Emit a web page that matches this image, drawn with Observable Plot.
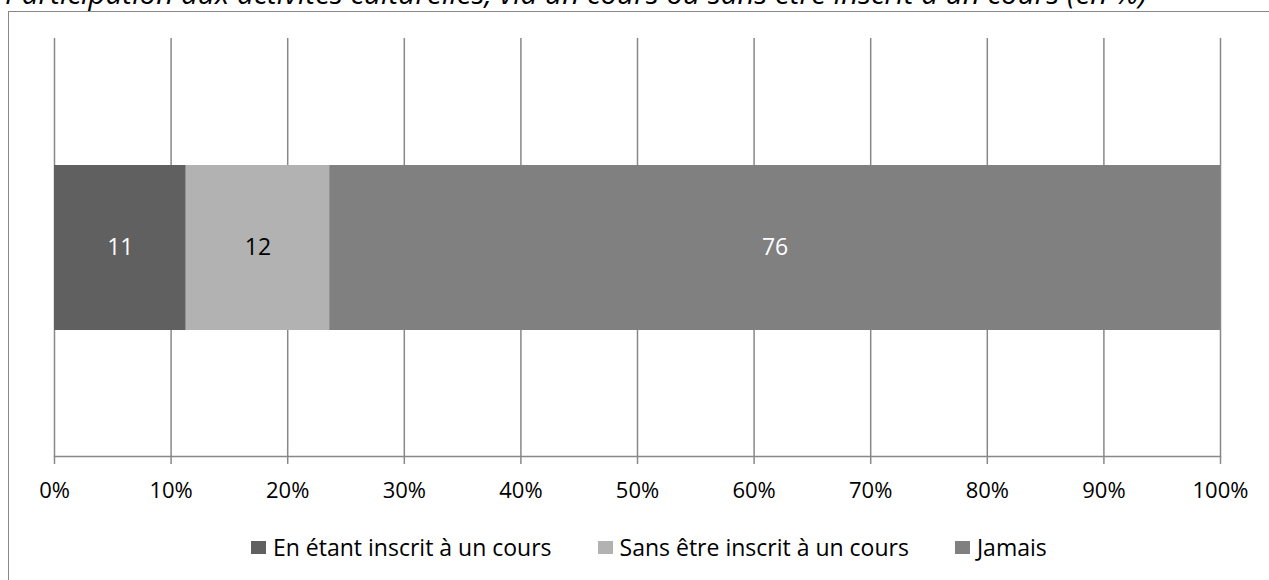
<!DOCTYPE html>
<html><head><meta charset="utf-8">
<script src="https://cdn.jsdelivr.net/npm/d3@7"></script>
<script src="https://cdn.jsdelivr.net/npm/@observablehq/plot@0.6"></script>
<style>
body{margin:0;background:#fff;width:1269px;height:580px;overflow:hidden;position:relative;font-family:"Open Sans",Lato,sans-serif;}
#titlesvg{position:absolute;left:0;top:0;overflow:visible;}
#box{position:absolute;left:8px;top:11px;width:1400px;height:700px;border:1.5px solid #888;box-sizing:border-box;}
#chart{position:absolute;left:0;top:0;}
#legend{position:absolute;top:532px;left:251px;display:flex;gap:46px;font-size:23px;line-height:30px;color:#000;white-space:nowrap;}
#legend span.item{display:flex;align-items:center;gap:7px;}
#legend span.sw{display:inline-block;width:15px;height:13px;margin-top:1px;}
</style></head>
<body>
<svg id="titlesvg" width="1269" height="20"><text id="title" x="5" y="4" font-family="Open Sans, Lato, sans-serif" font-style="italic" font-size="24">Participation aux activités culturelles, via un cours ou sans être inscrit à un cours (en %)</text></svg>
<div id="box"></div>
<div id="chart"></div>
<div id="legend"></div>
<script>
const categories = ["En étant inscrit à un cours", "Sans être inscrit à un cours", "Jamais"];
const values = [11.3, 12.3, 76.4];
const labels = ["11", "12", "76"];
const colors = ["#606060", "#b2b2b2", "#808080"];
const labelColors = ["#ffffff", "#000000", "#ffffff"];
const ticks = [0, 10, 20, 30, 40, 50, 60, 70, 80, 90, 100];

// fit title width to the reference span
const t = document.getElementById("title");
const len = t.getComputedTextLength();
if (len > 0) t.setAttribute("font-size", (24 * 1142 / len).toFixed(2));

let acc = 0;
const data = categories.map((c, i) => {
  const d = {cat: c, row: "r", x1: acc, x2: acc + values[i], label: labels[i], lc: labelColors[i]};
  acc += values[i];
  return d;
});

const chart = Plot.plot({
  width: 1269, height: 580,
  marginLeft: 54, marginRight: 49, marginTop: 38, marginBottom: 124,
  style: {fontFamily: "'Open Sans', Lato, sans-serif", fontSize: "22px", background: "transparent", color: "#000"},
  x: {domain: [0, 100], ticks: ticks},
  y: {domain: ["r"], padding: 0.433, axis: null},
  color: {domain: categories, range: colors},
  marks: [
    Plot.gridX(ticks, {stroke: "#888", strokeOpacity: 1, strokeWidth: 1.5}),
    Plot.frame({anchor: "bottom", stroke: "#888", strokeWidth: 1.5}),
    Plot.axisX(ticks, {tickSize: 8, tickPadding: 18, stroke: "#888", strokeWidth: 1.5, tickFormat: d => d + "%", fill: "#000", fontSize: 22}),
    Plot.barX(data, {x1: "x1", x2: "x2", y: "row", fill: "cat"}),
    Plot.text(data, {x: d => (d.x1 + d.x2) / 2, y: "row", text: "label", fill: "lc", fontSize: 23})
  ]
});
document.getElementById("chart").appendChild(chart);

const lg = document.getElementById("legend");
categories.forEach((c, i) => {
  const it = document.createElement("span");
  it.className = "item";
  const sw = document.createElement("span");
  sw.className = "sw";
  sw.style.background = colors[i];
  it.appendChild(sw);
  it.appendChild(document.createTextNode(c));
  lg.appendChild(it);
});
</script>
</body></html>
